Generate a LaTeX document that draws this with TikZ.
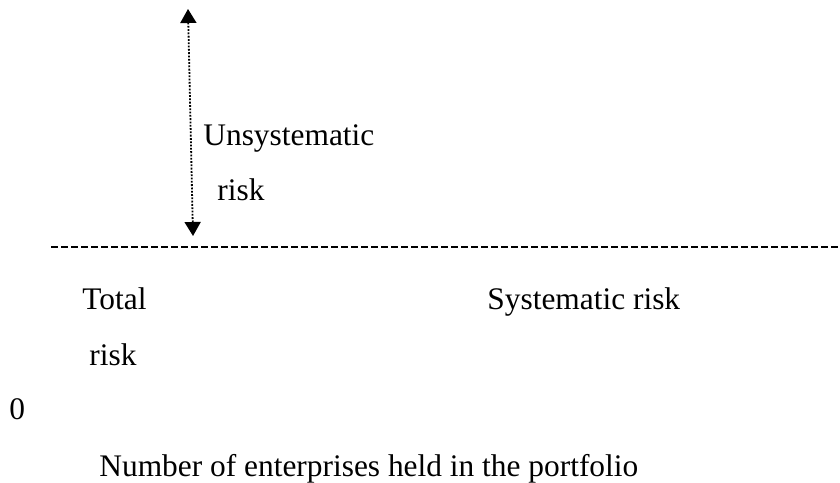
\documentclass[tikz,border=0pt]{standalone}
\usepackage{fontspec}
\setmainfont{Liberation Serif}
\usetikzlibrary{arrows.meta,positioning}

\begin{document}
\begin{tikzpicture}[
    x=0.5pt, y=-0.5pt,
    lbl/.style={anchor=base west, inner sep=0pt, font=\fontsize{15.7}{18}\selectfont},
    arrow/.style={{Triangle[width=8pt,length=7pt]}-{Triangle[width=8pt,length=7pt]}, line width=0.9pt, dash pattern=on 0.9pt off 0.75pt},
    level/.style={line width=0.9pt, dash pattern=on 3.3pt off 1.7pt}
]
\useasboundingbox (0,0) rectangle (840,482);

\coordinate (top) at (188,9);
\coordinate (bot) at (193,236);
\coordinate (lvlL) at (51,247);
\coordinate (lvlR) at (840,247);

\node[lbl] (unsys) at (203,145) {Unsystematic};
\node[lbl] (unsysrisk) at (217,200) {risk};
\node[lbl] (total) at (82,309) {Total};
\node[lbl] (totalrisk) at (89,365) {risk};
\node[lbl] (sysrisk) at (487,309) {Systematic risk};
\node[lbl] (zero) at (9,419) {0};
\node[lbl] (xlabel) at (99,476) {Number of enterprises held in the portfolio};

\draw[arrow] (top) -- (bot);
\draw[level] (lvlL) -- (lvlR);

\end{tikzpicture}
\end{document}
